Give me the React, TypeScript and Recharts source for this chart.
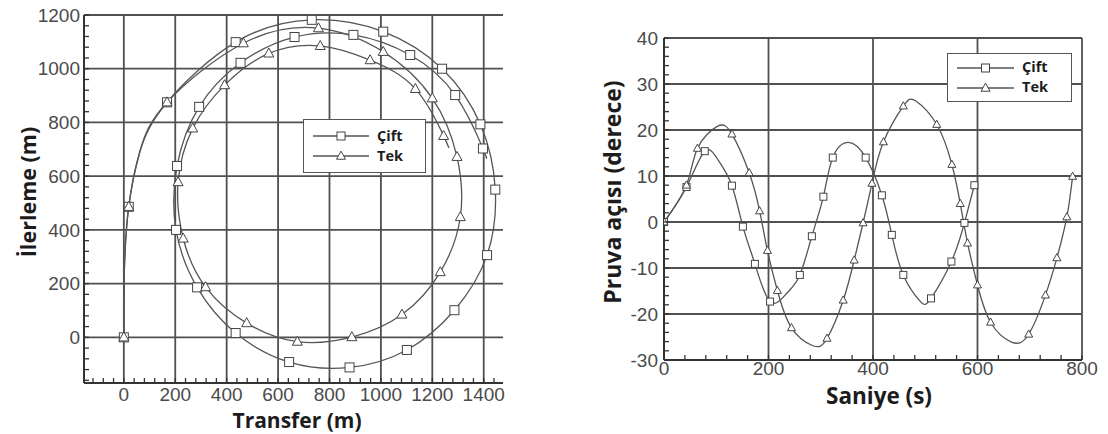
import { ComposedChart, Line, Scatter, XAxis, YAxis, ReferenceLine } from 'recharts';

document.body.style.margin = '0';

// [x, y, marked] - marked = 1 where the reference draws a symbol
type Pt = [number, number, number];

const seriesNames = ['Çift', 'Tek'];

// turning circle, transfer (m) -> advance (m)
const ciftTurn: Pt[] = [
  [0, 0, 1], [2, 250, 0], [19, 486, 1], [62, 690, 0], [168, 875, 1], [435, 1099, 1],
  [731, 1182, 1], [1009, 1138, 1], [1238, 1000, 1], [1387, 793, 1], [1445, 550, 1],
  [1413, 306, 1], [1286, 101, 1], [1101, -47, 1], [878, -112, 1], [643, -92, 1],
  [435, 16, 1], [285, 186, 1], [203, 400, 1], [207, 638, 1], [293, 858, 1],
  [454, 1022, 1], [664, 1118, 1], [893, 1126, 1], [1114, 1051, 1], [1289, 902, 1],
  [1397, 703, 1], [1408, 670, 0],
];
const tekTurn: Pt[] = [
  [0, 0, 1], [2, 250, 0], [19, 486, 1], [62, 690, 0], [168, 875, 1], [465, 1095, 1],
  [757, 1151, 1], [1009, 1063, 1], [1200, 890, 1], [1296, 672, 1], [1309, 448, 1],
  [1231, 243, 1], [1082, 85, 1], [887, 1, 1], [675, -16, 1], [478, 53, 1],
  [318, 187, 1], [231, 368, 1], [211, 578, 1], [268, 778, 1], [392, 939, 1],
  [564, 1057, 1], [764, 1085, 1], [958, 1032, 1], [1134, 925, 1], [1244, 750, 1],
  [1264, 705, 0],
];
const turnXTicks = [0, 200, 400, 600, 800, 1000, 1200, 1400];
const turnYTicks = [0, 200, 400, 600, 800, 1000, 1200];
const turnXDomain: [number, number] = [-155, 1475];
const turnYDomain: [number, number] = [-170, 1200];

// heading angle (degrees) over time (s)
const ciftHeading: Pt[] = [
  [0, 0, 1], [43, 7.6, 1], [78, 15.4, 1], [104, 13.4, 0], [130, 7.9, 1], [151, -1, 1],
  [174, -9.1, 1], [203, -17.3, 1], [235, -15.5, 0], [260, -11.5, 1], [283, -3.1, 1],
  [305, 5.5, 1], [323, 14.0, 1], [353, 17.3, 0], [386, 14.0, 1], [417, 5.8, 1],
  [436, -2.8, 1], [458, -11.5, 1], [490, -17.2, 0], [511, -16.6, 1], [550, -8.6, 1],
  [575, -0.2, 1], [594, 8.0, 1],
];
const tekHeading: Pt[] = [
  [0, 0, 1], [43, 8, 1], [64, 16, 1], [102, 20.8, 0], [130, 19.1, 1], [163, 10.7, 1],
  [183, 2.4, 1], [198, -6.2, 1], [217, -14.9, 1], [244, -23, 1], [285, -26.9, 0],
  [312, -25.3, 1], [343, -17, 1], [364, -8.3, 1], [381, -0.2, 1], [398, 8.4, 1],
  [420, 17.4, 1], [458, 25.2, 1], [482, 26.3, 0], [522, 21.2, 1], [551, 12.5, 1],
  [567, 4, 1], [581, -4.6, 1], [600, -13.7, 1], [625, -21.8, 1], [665, -26.1, 0],
  [698, -24.4, 1], [730, -15.9, 1], [752, -7.8, 1], [771, 1.1, 1], [782, 9.9, 1],
];
const timeTicks = [0, 200, 400, 600, 800];
const headingTicks = [-30, -20, -10, 0, 10, 20, 30, 40];
const timeDomain: [number, number] = [0, 800];
const headingDomain: [number, number] = [-30, 40];

const rows = (pts: Pt[]) => pts.map(([x, y]) => ({ x, y }));
const marks = (pts: Pt[]) => pts.filter((p) => p[2]).map(([x, y]) => ({ x, y }));

// major ticks plus the small unlabelled ones between them
function allTicks([lo, hi]: [number, number], step: number, major: number[]) {
  const out = new Set<number>(major);
  for (let v = Math.ceil(lo / step) * step; v <= hi; v += step) out.add(Math.round(v * 1000) / 1000);
  return [...out].sort((a, b) => a - b);
}

const INK = '#333';
const CURVE = '#555';
const GRID = '#505050';
const TICK_FONT = 'Liberation Sans, Arial, sans-serif';
const MINOR = 5;

function SquareMark({ cx, cy, s }: { cx: number; cy: number; s: number }) {
  return <rect x={cx - s / 2} y={cy - s / 2} width={s} height={s} fill="#fff" stroke="#444" strokeWidth={1} />;
}

function TriangleMark({ cx, cy, s }: { cx: number; cy: number; s: number }) {
  const h = s * 0.9;
  return (
    <path
      d={`M${cx},${cy - h * 0.6}L${cx + s / 2},${cy + h * 0.4}L${cx - s / 2},${cy + h * 0.4}Z`}
      fill="#fff"
      stroke="#444"
      strokeWidth={1}
    />
  );
}

function BottomTick({ x, y, payload, major, gap }: any) {
  const base = y - gap;
  const isMajor = major.includes(payload.value);
  return (
    <g>
      <line x1={x} x2={x} y1={base} y2={base - MINOR} stroke={INK} strokeWidth={1.3} />
      {isMajor && (
        <text x={x} y={y} dy="0.71em" textAnchor="middle" fill="#4a4a4a" fontSize={19} fontFamily={TICK_FONT}>
          {payload.value}
        </text>
      )}
    </g>
  );
}

function LeftTick({ x, y, payload, major, gap }: any) {
  const base = x + gap;
  const isMajor = major.includes(payload.value);
  return (
    <g>
      <line x1={base} x2={base + MINOR} y1={y} y2={y} stroke={INK} strokeWidth={1.3} />
      {isMajor && (
        <text x={x} y={y} dy="0.355em" textAnchor="end" fill="#4a4a4a" fontSize={19} fontFamily={TICK_FONT}>
          {payload.value}
        </text>
      )}
    </g>
  );
}

type PanelProps = {
  left: number;
  width: number;
  margin: { top: number; right: number; bottom: number; left: number };
  xAxisHeight: number;
  cift: Pt[];
  tek: Pt[];
  xDomain: [number, number];
  yDomain: [number, number];
  xTicks: number[];
  yTicks: number[];
  xMinor: number;
  yMinor: number;
  markSize: number;
  xTickGap: number;
  yTickGap: number;
};

function Panel(p: PanelProps) {
  return (
    <div style={{ position: 'absolute', left: p.left, top: 0 }}>
      <ComposedChart width={p.width} height={434} margin={p.margin}>
        {p.xTicks.map((v) => (
          <ReferenceLine key={`gx${v}`} x={v} stroke={GRID} strokeWidth={1.8} />
        ))}
        {p.yTicks.map((v) => (
          <ReferenceLine key={`gy${v}`} y={v} stroke={GRID} strokeWidth={1.8} />
        ))}
        <XAxis
          dataKey="x"
          type="number"
          domain={p.xDomain}
          ticks={allTicks(p.xDomain, p.xMinor, p.xTicks)}
          interval={0}
          allowDataOverflow
          height={p.xAxisHeight}
          tickLine={false}
          tickSize={0}
          tickMargin={p.xTickGap}
          axisLine={{ stroke: INK, strokeWidth: 2 }}
          tick={<BottomTick major={p.xTicks} gap={p.xTickGap} />}
        />
        <YAxis
          dataKey="y"
          type="number"
          domain={p.yDomain}
          ticks={allTicks(p.yDomain, p.yMinor, p.yTicks)}
          interval={0}
          allowDataOverflow
          width={84}
          tickLine={false}
          tickSize={0}
          tickMargin={p.yTickGap}
          axisLine={{ stroke: INK, strokeWidth: 2 }}
          tick={<LeftTick major={p.yTicks} gap={p.yTickGap} />}
        />
        <XAxis
          xAxisId="top"
          orientation="top"
          type="number"
          domain={p.xDomain}
          allowDataOverflow
          mirror
          height={0}
          tick={false}
          tickLine={false}
          axisLine={{ stroke: INK, strokeWidth: 2 }}
        />
        <YAxis
          yAxisId="right"
          orientation="right"
          type="number"
          domain={p.yDomain}
          allowDataOverflow
          mirror
          width={0}
          tick={false}
          tickLine={false}
          axisLine={{ stroke: INK, strokeWidth: 2 }}
        />
        <Line data={rows(p.cift)} dataKey="y" type="natural" stroke={CURVE} strokeWidth={1.3} dot={false} isAnimationActive={false} />
        <Line data={rows(p.tek)} dataKey="y" type="natural" stroke={CURVE} strokeWidth={1.3} dot={false} isAnimationActive={false} />
        <Scatter
          data={marks(p.cift)}
          dataKey="y"
          isAnimationActive={false}
          shape={(s: any) => <SquareMark cx={s.cx} cy={s.cy} s={p.markSize} />}
        />
        <Scatter
          data={marks(p.tek)}
          dataKey="y"
          isAnimationActive={false}
          shape={(s: any) => <TriangleMark cx={s.cx} cy={s.cy} s={p.markSize + 1} />}
        />
      </ComposedChart>
    </div>
  );
}

function Title({ text, x, y, size, vertical }: { text: string; x: number; y: number; size: number; vertical?: boolean }) {
  return (
    <div
      style={{
        position: 'absolute',
        left: x,
        top: y,
        transform: `translate(-50%, -50%)${vertical ? ' rotate(-90deg)' : ''}`,
        whiteSpace: 'nowrap',
        fontFamily: '"Open Sans", sans-serif',
        fontWeight: 700,
        fontSize: size,
        color: '#1c1c1c',
        lineHeight: 1,
      }}
    >
      {text}
    </div>
  );
}

function LegendBox({ x, y, w, h, size, lineW }: { x: number; y: number; w: number; h: number; size: number; lineW: number }) {
  return (
    <div
      style={{
        position: 'absolute',
        left: x,
        top: y,
        width: w,
        height: h,
        boxSizing: 'border-box',
        border: '1.5px solid #555',
        background: '#fff',
        display: 'flex',
        flexDirection: 'column',
        justifyContent: 'center',
        paddingLeft: 9,
      }}
    >
      {seriesNames.map((name, i) => (
        <div key={name} style={{ display: 'flex', alignItems: 'center', height: 20 }}>
          <svg width={lineW} height={12}>
            <line x1={0} x2={lineW} y1={6} y2={6} stroke={CURVE} strokeWidth={1.5} />
            {i === 0 ? <SquareMark cx={lineW / 2} cy={6} s={8} /> : <TriangleMark cx={lineW / 2} cy={6} s={9} />}
          </svg>
          <span
            style={{
              marginLeft: 8,
              fontFamily: '"Open Sans", sans-serif',
              fontWeight: 700,
              fontSize: size,
              color: '#1c1c1c',
              lineHeight: 1,
            }}
          >
            {name}
          </span>
        </div>
      ))}
    </div>
  );
}

export default function App() {
  return (
    <div style={{ position: 'relative', width: 1108, height: 434, background: '#fff', overflow: 'hidden' }}>
      <Panel
        left={0}
        width={520}
        margin={{ top: 15, right: 17, bottom: 0, left: 0 }}
        xAxisHeight={51}
        cift={ciftTurn}
        tek={tekTurn}
        xDomain={turnXDomain}
        yDomain={turnYDomain}
        xTicks={turnXTicks}
        yTicks={turnYTicks}
        xMinor={40}
        yMinor={40}
        markSize={9}
        xTickGap={5}
        yTickGap={4}
      />
      <Panel
        left={580}
        width={528}
        margin={{ top: 38, right: 26, bottom: 0, left: 0 }}
        xAxisHeight={74}
        cift={ciftHeading}
        tek={tekHeading}
        xDomain={timeDomain}
        yDomain={headingDomain}
        xTicks={timeTicks}
        yTicks={headingTicks}
        xMinor={40}
        yMinor={2}
        markSize={7}
        xTickGap={2}
        yTickGap={6}
      />
      <Title text="İlerleme (m)" x={28} y={192} size={21.5} vertical />
      <Title text="Transfer (m)" x={297} y={420} size={21} />
      <Title text="Pruva açısı (derece)" x={612} y={192} size={23} vertical />
      <Title text="Saniye (s)" x={879} y={396} size={22.5} />
      <LegendBox x={303} y={119} w={123} h={54} size={14.5} lineW={56} />
      <LegendBox x={947} y={53} w={125} h={49} size={14.5} lineW={57} />
    </div>
  );
}
